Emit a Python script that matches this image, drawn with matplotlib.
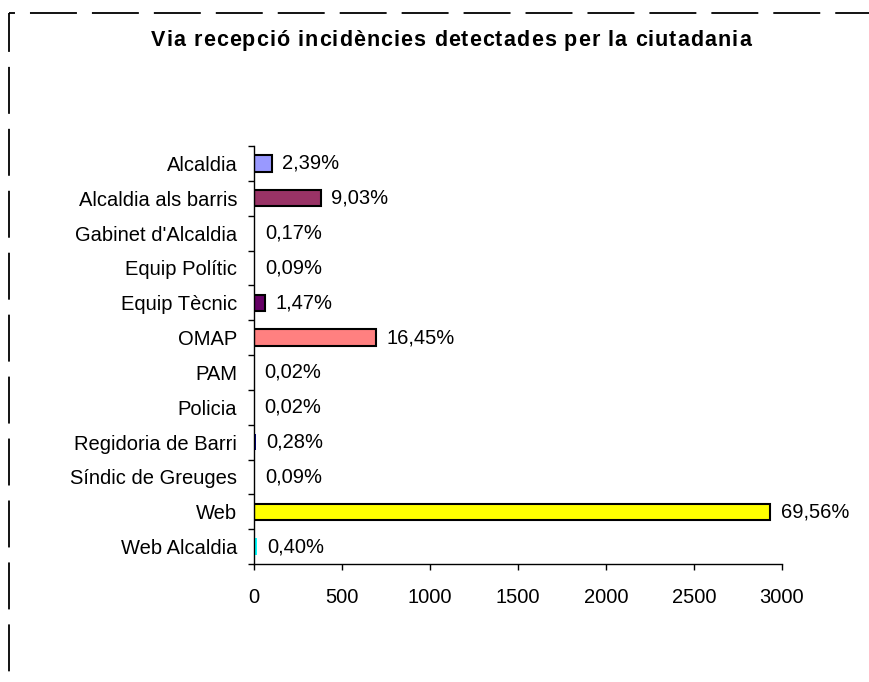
import numpy as np
import matplotlib
matplotlib.use("Agg")
import matplotlib.pyplot as plt
from matplotlib.lines import Line2D

plt.rcParams['font.family'] = ['Liberation Sans', 'DejaVu Sans']
plt.rcParams['lines.scale_dashes'] = False

title = "Via recepció incidències detectades per la ciutadania"
categories = ["Alcaldia", "Alcaldia als barris", "Gabinet d'Alcaldia", "Equip Polític",
              "Equip Tècnic", "OMAP", "PAM", "Policia", "Regidoria de Barri",
              "Síndic de Greuges", "Web", "Web Alcaldia"]
counts = [101, 381, 7, 4, 62, 694, 1, 1, 12, 4, 2934, 17]
colors = ["#9999FF", "#993366", "#FFFFCC", "#CCFFFF", "#660066", "#FF8080",
          "#0066CC", "#CCCCFF", "#000080", "#FF00FF", "#FFFF00", "#00FFFF"]
xticks = [0, 500, 1000, 1500, 2000, 2500, 3000]

total = sum(counts)
pct_labels = [f"{c / total * 100:.2f}%".replace(".", ",") for c in counts]

fig = plt.figure(figsize=(8.69, 6.82), dpi=100)
W, H = 869, 682
ax = fig.add_axes([254 / W, 1 - 564 / H, (782 - 254) / W, (564 - 146) / H])

y = np.arange(len(categories))
# bars thinner than a couple of pixels show no border in the original
edges = ["black" if c > 30 else "none" for c in counts]
ax.barh(y, counts, height=0.47, color=colors, edgecolor=edges, linewidth=1.5, zorder=2)
for yi, c, lab in zip(y, counts, pct_labels):
    ax.annotate(lab, (c, yi), xytext=(7.5, 0), textcoords="offset points",
                va="center", ha="left", fontsize=14.5)

ax.set_ylim(len(categories) - 0.5, -0.5)
ax.set_xlim(0, 3000)
ax.set_xticks(xticks)
ax.set_xticklabels([str(t) for t in xticks], fontsize=14.5)
ax.set_yticks(y)
ax.set_yticklabels(categories, fontsize=14.5)
ax.tick_params(axis="y", length=0, pad=12)
ax.set_yticks(np.arange(-0.5, len(categories)), minor=True)
ax.tick_params(axis="y", which="minor", length=4.3, width=1, direction="out")
ax.tick_params(axis="x", length=4.3, width=1, direction="out", pad=13)
for s in ["top", "right"]:
    ax.spines[s].set_visible(False)
for s in ["left", "bottom"]:
    ax.spines[s].set_linewidth(1)
    ax.spines[s].set_zorder(3)

# title drawn letter by letter to get the slightly wide letter spacing of the original
r = fig.canvas.get_renderer()
def text_w(s):
    t = fig.text(0, 0, s, fontsize=15.5, fontweight="bold")
    w = t.get_window_extent(r).width
    t.remove()
    return w
base = text_w("ii")
widths = [text_w("i" + ch + "i") - base for ch in title]
title_w = 600
gap = (title_w - sum(widths)) / (len(title) - 1)
x = 451 - title_w / 2
for ch, w in zip(title, widths):
    fig.text(x / W, 1 - 46 / H, ch, ha="left", va="baseline", fontsize=15.5, fontweight="bold")
    x += w + gap

# dashed chart border (top and left edges visible)
fig.add_artist(Line2D([9 / W, 1.0], [1 - 13 / H, 1 - 13 / H], transform=fig.transFigure,
                      color="black", lw=1.3, linestyle=(29.5, (33.8, 10.8))))
fig.add_artist(Line2D([9 / W, 9 / W], [1 - 13 / H, 0.0], transform=fig.transFigure,
                      color="black", lw=1.3, linestyle=(5.8, (33.8, 10.8))))

fig.savefig("out.png", dpi=100)
